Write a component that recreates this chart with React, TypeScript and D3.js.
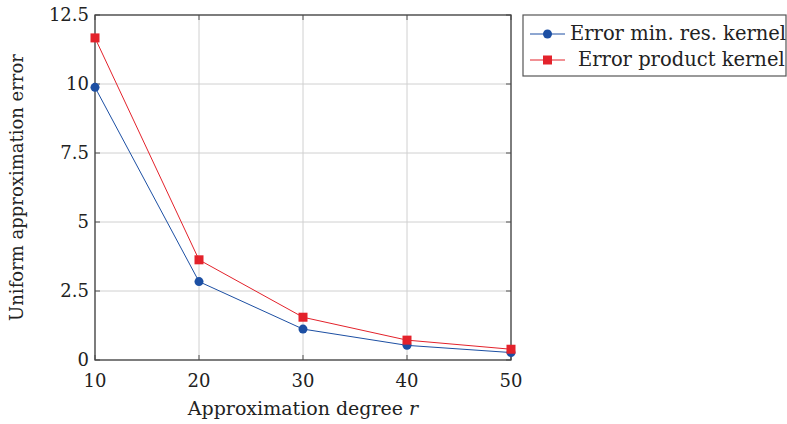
import React, { useRef, useEffect } from 'react';
import * as d3 from 'd3';

const degrees = [10, 20, 30, 40, 50];
const errMinRes = [9.88, 2.84, 1.12, 0.53, 0.27];
const errProduct = [11.67, 3.63, 1.55, 0.72, 0.39];
const yTicks = [0, 2.5, 5, 7.5, 10, 12.5];
const yTickLabels = ['0', '2.5', '5', '7.5', '10', '12.5'];
const seriesNames = ['Error min. res. kernel', 'Error product kernel'];

const BLUE = '#1c4fa3';
const RED = '#e3222b';
const FONT = 'DejaVu Serif';

const App = () => {
  const ref = useRef<SVGSVGElement>(null);

  useEffect(() => {
    const width = 787, height = 424;
    const margin = { top: 15, right: 277, bottom: 64, left: 95 };
    const svg = d3.select(ref.current).attr('width', width).attr('height', height);
    svg.selectAll('*').remove();

    const x = d3.scaleLinear().domain([10, 50]).range([margin.left, width - margin.right + 1]);
    const y = d3.scaleLinear().domain([0, 12.5]).range([height - margin.bottom, margin.top]);

    const g = svg.append('g');

    // grid
    g.selectAll('line.gx').data(degrees).join('line')
      .attr('x1', d => x(d)).attr('x2', d => x(d))
      .attr('y1', y(0)).attr('y2', y(12.5))
      .attr('stroke', '#d0d0d0').attr('stroke-width', 1);
    g.selectAll('line.gy').data(yTicks).join('line')
      .attr('x1', x(10)).attr('x2', x(50))
      .attr('y1', d => y(d)).attr('y2', d => y(d))
      .attr('stroke', '#d0d0d0').attr('stroke-width', 1);

    // inner tick marks
    const tl = 5;
    g.selectAll('line.tx').data(degrees).join('line')
      .attr('x1', d => x(d)).attr('x2', d => x(d))
      .attr('y1', y(0)).attr('y2', y(0) - tl).attr('stroke', '#555');
    g.selectAll('line.tx2').data(degrees).join('line')
      .attr('x1', d => x(d)).attr('x2', d => x(d))
      .attr('y1', y(12.5)).attr('y2', y(12.5) + tl).attr('stroke', '#555');
    g.selectAll('line.ty').data(yTicks).join('line')
      .attr('x1', x(10)).attr('x2', x(10) + tl)
      .attr('y1', d => y(d)).attr('y2', d => y(d)).attr('stroke', '#555');
    g.selectAll('line.ty2').data(yTicks).join('line')
      .attr('x1', x(50)).attr('x2', x(50) - tl)
      .attr('y1', d => y(d)).attr('y2', d => y(d)).attr('stroke', '#555');

    // frame
    g.append('rect')
      .attr('x', x(10)).attr('y', y(12.5))
      .attr('width', x(50) - x(10)).attr('height', y(0) - y(12.5))
      .attr('fill', 'none').attr('stroke', '#444').attr('stroke-width', 1.3);

    // tick labels
    g.selectAll('text.xl').data(degrees).join('text')
      .attr('x', d => x(d)).attr('y', y(0) + 27)
      .attr('text-anchor', 'middle')
      .attr('font-family', FONT).attr('font-size', 18).attr('fill', '#222')
      .text(d => d);
    g.selectAll('text.yl').data(yTicks).join('text')
      .attr('x', x(10) - 6).attr('y', d => y(d) + 6)
      .attr('text-anchor', 'end')
      .attr('font-family', FONT).attr('font-size', 18).attr('fill', '#222')
      .text((d, i) => yTickLabels[i]);

    // axis labels
    const xl = g.append('text')
      .attr('x', (x(10) + x(50)) / 2).attr('y', 415)
      .attr('text-anchor', 'middle')
      .attr('font-family', FONT).attr('font-size', 19).attr('fill', '#222');
    xl.append('tspan').text('Approximation degree ');
    xl.append('tspan').attr('font-style', 'italic').text('r');

    g.append('text')
      .attr('transform', `translate(23,${(y(0) + y(12.5)) / 2}) rotate(-90)`)
      .attr('text-anchor', 'middle')
      .attr('font-family', FONT).attr('font-size', 18).attr('fill', '#222')
      .text('Uniform approximation error');

    const line = d3.line<number>().x((d, i) => x(degrees[i])).y(d => y(d));

    g.append('path').datum(errProduct).attr('d', line)
      .attr('fill', 'none').attr('stroke', RED).attr('stroke-width', 1);
    g.append('path').datum(errMinRes).attr('d', line)
      .attr('fill', 'none').attr('stroke', BLUE).attr('stroke-width', 1);

    g.selectAll('circle.m').data(errMinRes).join('circle')
      .attr('cx', (d, i) => x(degrees[i])).attr('cy', d => y(d))
      .attr('r', 4.5).attr('fill', BLUE);
    const s = 9;
    g.selectAll('rect.m').data(errProduct).join('rect')
      .attr('x', (d, i) => x(degrees[i]) - s / 2).attr('y', d => y(d) - s / 2)
      .attr('width', s).attr('height', s).attr('fill', RED);

    // legend
    const lg = svg.append('g');
    lg.append('rect')
      .attr('x', 523).attr('y', 15).attr('width', 263).attr('height', 61)
      .attr('fill', 'white').attr('stroke', '#555').attr('stroke-width', 1.2);
    const colors = [BLUE, RED];
    seriesNames.forEach((name, i) => {
      const cy = 34 + i * 26;
      lg.append('line').attr('x1', 530).attr('x2', 565).attr('y1', cy).attr('y2', cy)
        .attr('stroke', colors[i]).attr('stroke-width', 1);
      if (i === 0) {
        lg.append('circle').attr('cx', 547.5).attr('cy', cy).attr('r', 4.5).attr('fill', BLUE);
      } else {
        lg.append('rect').attr('x', 547.5 - s / 2).attr('y', cy - s / 2)
          .attr('width', s).attr('height', s).attr('fill', RED);
      }
      lg.append('text')
        .attr('x', i === 0 ? 570 : 578).attr('y', cy + 6)
        .attr('font-family', FONT).attr('font-size', 19.5).attr('fill', '#222')
        .text(name);
    });
  }, []);

  return <svg ref={ref} style={{ position: 'absolute', left: 0, top: 0 }} />;
};

export default App;
